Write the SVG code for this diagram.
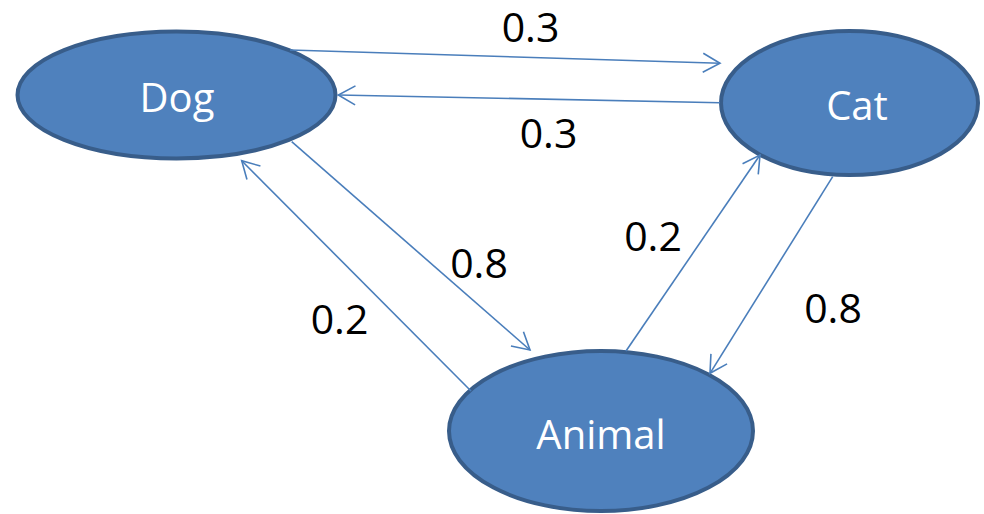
<svg xmlns="http://www.w3.org/2000/svg" width="984" height="514" viewBox="0 0 984 514">
  <style>
    .node ellipse { fill: #4F81BD; stroke: #385D8A; stroke-width: 4; }
    .node text { fill: #FFFFFF; font-family: "Open Sans", "Liberation Sans", sans-serif; font-size: 40px; text-anchor: middle; }
    .edge { stroke: #4A7EBB; stroke-width: 1.6; fill: none; marker-end: url(#arrow); }
    .label { fill: #000000; font-family: "Open Sans", "Liberation Sans", sans-serif; font-size: 41px; text-anchor: middle; }
  </style>
  <defs>
    <marker id="arrow" markerUnits="userSpaceOnUse" markerWidth="24" markerHeight="24" viewBox="-20 -12 24 24" refX="0" refY="0" orient="auto" overflow="visible">
      <path d="M -17 -9.5 L 0 0 L -17 9.5" fill="none" stroke="#4A7EBB" stroke-width="1.6"/>
    </marker>
  </defs>
  <rect width="984" height="514" fill="#FFFFFF"/>

  <g id="node-dog" class="node">
    <ellipse cx="176.5" cy="95" rx="159" ry="63.5"/>
    <text x="177" y="111.5">Dog</text>
  </g>
  <g id="node-cat" class="node">
    <ellipse cx="849.5" cy="103" rx="128.5" ry="72"/>
    <text x="857" y="119.5">Cat</text>
  </g>
  <g id="node-animal" class="node">
    <ellipse cx="601" cy="431" rx="152" ry="80"/>
    <text x="601" y="448.5">Animal</text>
  </g>

  <g id="connectors">
    <line class="edge" x1="290" y1="50" x2="720" y2="63.3"/>
    <line class="edge" x1="720" y1="102.7" x2="338.3" y2="95"/>
    <line class="edge" x1="291.7" y1="141.7" x2="530" y2="350"/>
    <line class="edge" x1="471" y1="391" x2="241.7" y2="160.7"/>
    <line class="edge" x1="626" y1="351" x2="760" y2="155"/>
    <line class="edge" x1="832.7" y1="176.7" x2="710" y2="373.3"/>
  </g>

  <g id="labels">
    <text class="label" x="530.5" y="42">0.3</text>
    <text class="label" x="548.5" y="147.5">0.3</text>
    <text class="label" x="479" y="277.5">0.8</text>
    <text class="label" x="339.5" y="333.5">0.2</text>
    <text class="label" x="653" y="251">0.2</text>
    <text class="label" x="833" y="322.5">0.8</text>
  </g>
</svg>
